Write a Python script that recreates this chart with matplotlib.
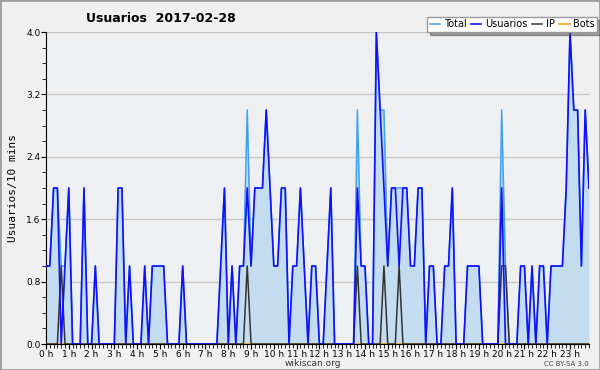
import numpy as np
import matplotlib
matplotlib.use('Agg')
import matplotlib.pyplot as plt
from matplotlib.ticker import MultipleLocator

# 10-minute slots, 2017-02-28, one row per hour
usuarios = [
    1, 1, 2, 2, 0, 1,
    2, 0, 0, 0, 2, 0,
    0, 1, 0, 0, 0, 0,
    0, 2, 2, 0, 1, 0,
    0, 0, 1, 0, 1, 1,
    1, 1, 0, 0, 0, 0,
    1, 0, 0, 0, 0, 0,
    0, 0, 0, 0, 1, 2,
    0, 1, 0, 1, 1, 2,
    1, 2, 2, 2, 3, 2,
    1, 1, 2, 2, 0, 1,
    1, 2, 1, 0, 1, 1,
    0, 0, 1, 2, 0, 0,
    0, 0, 0, 0, 2, 1,
    1, 0, 0, 4, 3, 2,
    1, 2, 2, 1, 2, 2,
    1, 1, 2, 2, 0, 1,
    1, 0, 0, 1, 1, 2,
    0, 0, 0, 1, 1, 1,
    1, 0, 0, 0, 0, 0,
    2, 0, 0, 0, 0, 1,
    1, 0, 1, 0, 1, 1,
    0, 1, 1, 1, 1, 2,
    4, 3, 3, 1, 3, 2,
]
ip = [
    0, 0, 0, 0, 1, 0,
    0, 0, 0, 0, 0, 0,
    0, 0, 0, 0, 0, 0,
    0, 0, 0, 0, 0, 0,
    0, 0, 0, 0, 0, 0,
    0, 0, 0, 0, 0, 0,
    0, 0, 0, 0, 0, 0,
    0, 0, 0, 0, 0, 0,
    0, 0, 0, 0, 0, 1,
    0, 0, 0, 0, 0, 0,
    0, 0, 0, 0, 0, 0,
    0, 0, 0, 0, 0, 0,
    0, 0, 0, 0, 0, 0,
    0, 0, 0, 0, 1, 0,
    0, 0, 0, 0, 0, 1,
    0, 0, 0, 1, 0, 0,
    0, 0, 0, 0, 0, 0,
    0, 0, 0, 0, 0, 0,
    0, 0, 0, 0, 0, 0,
    0, 0, 0, 0, 0, 0,
    1, 1, 0, 0, 0, 0,
    0, 0, 0, 0, 0, 0,
    0, 0, 0, 0, 0, 0,
    0, 0, 0, 0, 0, 0,
]
total = [
    1, 1, 2, 2, 1, 1,
    2, 0, 0, 0, 2, 0,
    0, 1, 0, 0, 0, 0,
    0, 2, 2, 0, 1, 0,
    0, 0, 1, 0, 1, 1,
    1, 1, 0, 0, 0, 0,
    1, 0, 0, 0, 0, 0,
    0, 0, 0, 0, 1, 2,
    0, 1, 0, 1, 1, 3,
    1, 2, 2, 2, 3, 2,
    1, 1, 2, 2, 0, 1,
    1, 2, 1, 0, 1, 1,
    0, 0, 1, 2, 0, 0,
    0, 0, 0, 0, 3, 1,
    1, 0, 0, 4, 3, 3,
    1, 2, 2, 2, 2, 2,
    1, 1, 2, 2, 0, 1,
    1, 0, 0, 1, 1, 2,
    0, 0, 0, 1, 1, 1,
    1, 0, 0, 0, 0, 0,
    3, 1, 0, 0, 0, 1,
    1, 0, 1, 0, 1, 1,
    0, 1, 1, 1, 1, 2,
    4, 3, 3, 1, 3, 2,
]
bots = [0] * 144
hour_labels = ['%d h' % h for h in range(24)]

x = np.arange(len(total)) / 6.0

fig = plt.figure(figsize=(6, 3.7), dpi=100, facecolor='#f0f0f0')
ax = fig.add_axes([46/600, 1-344/370, 543/600, 312/370])
ax.set_facecolor('#eeeff1')

ax.fill_between(x, total, 0, color='#c4dcf0', lw=0, zorder=1)
l_total, = ax.plot(x, total, color='#3fa0f0', lw=1.1, zorder=2)
l_bots, = ax.plot(x, bots, color='#ff9900', lw=1.1, zorder=2)
l_ip, = ax.plot(x, ip, color='#333333', lw=1.1, zorder=3)
l_usr, = ax.plot(x, usuarios, color='#1010ff', lw=1.2, zorder=4)

ax.set_xlim(0, x[-1])
ax.set_ylim(0, 4.0)
ax.set_yticks(np.arange(0, 4.01, 0.8))
ax.set_yticklabels(['%.1f' % v for v in np.arange(0, 4.01, 0.8)])
ax.yaxis.set_minor_locator(MultipleLocator(0.2))
ax.set_xticks(range(24))
ax.set_xticklabels(hour_labels)
ax.xaxis.set_minor_locator(MultipleLocator(1/6))
ax.grid(axis='y', color='#c8c8c8', lw=1)
ax.set_axisbelow(True)
for s in ['top', 'right']:
    ax.spines[s].set_visible(False)
ax.tick_params(axis='both', which='major', labelsize=6.5, length=3.5, pad=0.5, direction='out')
ax.tick_params(axis='both', which='minor', length=3, direction='out')

ax.set_ylabel('Usuarios/10 mins', fontsize=8, family='DejaVu Sans Mono', labelpad=6)

fig.text(86/600, 1-18/370, 'Usuarios  2017-02-28', fontsize=9, fontweight='bold',
         va='center', ha='left')
fig.text(313/600, 1-364/370, 'wikiscan.org', fontsize=6.5, ha='center', va='center', color='#333333')
fig.text(589/600, 1-364/370, 'CC BY-SA 3.0', fontsize=5, ha='right', va='center', color='#444444')

leg = fig.legend([l_total, l_usr, l_ip, l_bots], ['Total', 'Usuarios', 'IP', 'Bots'],
                 loc='upper right', bbox_to_anchor=(597/600, 1-17/370), ncol=4,
                 fontsize=7, frameon=True, fancybox=False, shadow=True,
                 handlelength=1.1, handletextpad=0.35, columnspacing=0.45,
                 borderpad=0.25, borderaxespad=0)
leg.get_frame().set_edgecolor('#999999')
leg.get_frame().set_facecolor('white')

fig.patches.append(plt.Rectangle((0, 0), 1, 1, transform=fig.transFigure,
                                 fill=False, edgecolor='#a0a0a0', lw=2))

fig.savefig('out.png', dpi=100, facecolor=fig.get_facecolor())
